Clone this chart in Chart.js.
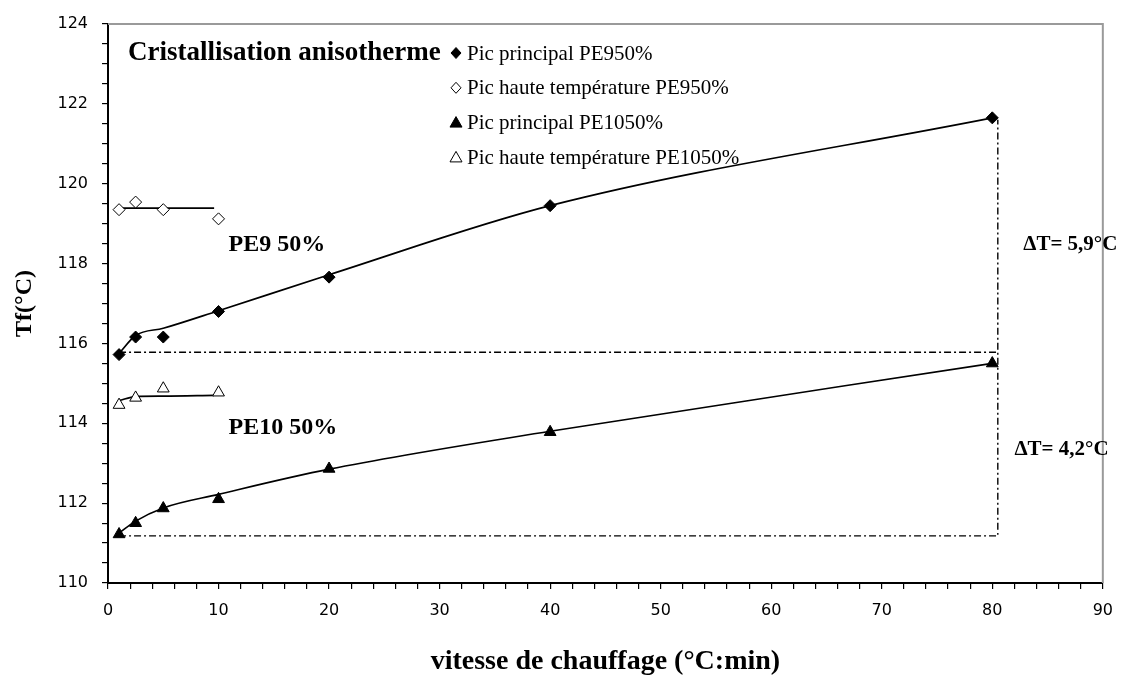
<!DOCTYPE html>
<html>
<head>
<meta charset="utf-8">
<script src="https://cdn.jsdelivr.net/npm/chart.js@4.4.0/dist/chart.umd.min.js"></script>
<style>
  html, body { margin: 0; padding: 0; background: #fff; }
  #wrap { width: 1125px; height: 681px; }
</style>
</head>
<body>
<div id="wrap"><canvas id="chart"></canvas></div>
<script>
// heating rates (°C/min)
const rates = [1, 2.5, 5, 10, 20, 40, 80];
const ratesHaute = [1, 2.5, 5, 10];

// measured melting temperatures Tf (°C)
const picPE9 = [115.72, 116.16, 116.16, 116.8, 117.66, 119.45, 121.65];
const hautePE9 = [119.35, 119.54, 119.35, 119.12];
const picPE10 = [111.22, 111.5, 111.87, 112.1, 112.86, 113.78, 115.5];
const hautePE10 = [114.46, 114.64, 114.87, 114.77];

// trend curves as drawn on the figure
const fitPE9 = [115.75, 116.2, 116.38, 116.82, 117.72, 119.45, 121.65];
const fitPE10 = [111.25, 111.55, 111.88, 112.22, 112.85, 113.8, 115.5];
const fitHauteX = [1, 2.5, 5, 9.6];
const fitHautePE9 = [119.39, 119.39, 119.39, 119.39];
const fitHautePE10 = [114.57, 114.67, 114.68, 114.7];

// dash-dot ΔT guides
const guideX = [1, 80.5, 80.5];
const guideTop = [115.78, 115.78];
const guideBottom = [111.18, 111.18, 121.6];

const legendLabels = [
  "Pic principal PE950%",
  "Pic haute température PE950%",
  "Pic principal PE1050%",
  "Pic haute température PE1050%"
];

const xy = (xs, ys) => ys.map((v, i) => ({ x: xs[i], y: v }));
const serif = '"Liberation Serif", "Times New Roman", serif';
const sans = '"DejaVu Sans", Tahoma, sans-serif';

function markerDs(label, xs, ys, style, filled) {
  return {
    label: label,
    data: xy(xs, ys),
    showLine: false,
    pointStyle: style,
    pointRadius: style === "rectRot" ? 6 : 6.8,
    pointBackgroundColor: filled ? "#000" : "#fff",
    pointBorderColor: "#000",
    pointBorderWidth: 1,
    order: 0
  };
}

function lineDs(xs, ys, dash, tension) {
  return {
    label: "",
    data: xy(xs, ys),
    showLine: true,
    borderColor: "#000",
    borderWidth: dash ? 1.4 : 1.7,
    borderDash: dash || [],
    pointRadius: 0,
    tension: tension || 0,
    cubicInterpolationMode: "monotone",
    order: 1
  };
}

const overlay = {
  id: "overlay",
  beforeDatasetsDraw(chart) {
    const { ctx, chartArea: a } = chart;
    ctx.save();
    ctx.strokeStyle = "#9a9a9a";
    ctx.lineWidth = 2;
    ctx.beginPath();
    ctx.moveTo(a.left, a.top);
    ctx.lineTo(a.right, a.top);
    ctx.lineTo(a.right, a.bottom);
    ctx.stroke();
    ctx.restore();
  },
  afterDatasetsDraw(chart) {
    const { ctx, scales: { x, y } } = chart;
    ctx.save();
    ctx.fillStyle = "#000";
    ctx.textBaseline = "middle";

    ctx.font = "bold 27px " + serif;
    ctx.fillText("Cristallisation anisotherme", 128, 53);

    // legend
    const styles = ["rectRot", "rectRot", "triangle", "triangle"];
    const fills = [true, false, true, false];
    ctx.font = "21px " + serif;
    legendLabels.forEach((t, i) => {
      const cy = 53 + i * 34.8;
      const mx = 456;
      ctx.beginPath();
      if (styles[i] === "rectRot") {
        ctx.moveTo(mx, cy - 5.5); ctx.lineTo(mx + 5, cy); ctx.lineTo(mx, cy + 5.5); ctx.lineTo(mx - 5, cy);
      } else {
        ctx.moveTo(mx, cy - 6); ctx.lineTo(mx + 6, cy + 4.5); ctx.lineTo(mx - 6, cy + 4.5);
      }
      ctx.closePath();
      ctx.fillStyle = fills[i] ? "#000" : "#fff";
      ctx.fill();
      ctx.strokeStyle = "#000";
      ctx.lineWidth = 1;
      ctx.stroke();
      ctx.fillStyle = "#000";
      ctx.fillText(t, 467, cy + 1);
    });

    ctx.font = "bold 24px " + serif;
    ctx.fillText("PE9 50%", x.getPixelForValue(10.9), y.getPixelForValue(118.47));
    ctx.fillText("PE10 50%", x.getPixelForValue(10.9), y.getPixelForValue(113.88));
    ctx.font = "bold 21px " + serif;
    ctx.fillText("\u0394T= 5,9\u00b0C", x.getPixelForValue(82.8), y.getPixelForValue(118.47));
    ctx.fillText("\u0394T= 4,2\u00b0C", x.getPixelForValue(82.0), y.getPixelForValue(113.33));
    ctx.restore();
  }
};

new Chart(document.getElementById("chart"), {
  type: "scatter",
  data: {
    datasets: [
      markerDs(legendLabels[0], rates, picPE9, "rectRot", true),
      markerDs(legendLabels[1], ratesHaute, hautePE9, "rectRot", false),
      markerDs(legendLabels[2], rates, picPE10, "triangle", true),
      markerDs(legendLabels[3], ratesHaute, hautePE10, "triangle", false),
      lineDs(rates, fitPE9, null, 0.4),
      lineDs(rates, fitPE10, null, 0.4),
      lineDs(fitHauteX, fitHautePE9, null, 0),
      lineDs(fitHauteX, fitHautePE10, null, 0.4),
      lineDs(guideX.slice(0, 2), guideTop, [7, 3, 2, 3]),
      lineDs(guideX, guideBottom, [7, 3, 2, 3])
    ]
  },
  options: {
    responsive: true,
    maintainAspectRatio: false,
    animation: false,
    layout: { autoPadding: false, padding: { top: 24, right: 22, left: 0, bottom: 0 } },
    plugins: {
      legend: { display: false },
      tooltip: { enabled: false }
    },
    scales: {
      x: {
        type: "linear",
        min: 0,
        max: 90,
        afterFit: (s) => { s.height = 98; },
        ticks: {
          stepSize: 2,
          autoSkip: false,
          maxRotation: 0,
          padding: 12,
          color: "#000",
          font: { family: sans, size: 16 },
          callback: (v) => (v % 10 === 0 ? v : "")
        },
        grid: { drawOnChartArea: false, color: "#000", tickLength: 6, lineWidth: 1.2 },
        border: { color: "#000", width: 2 },
        title: {
          display: true,
          text: "vitesse de chauffage (\u00b0C:min)",
          color: "#000",
          font: { family: serif, size: 28, weight: "bold" },
          padding: { top: 10, bottom: 2 }
        }
      },
      y: {
        type: "linear",
        min: 110,
        max: 124,
        afterFit: (s) => { s.width = 108; },
        ticks: {
          stepSize: 0.5,
          autoSkip: false,
          padding: 14,
          color: "#000",
          font: { family: sans, size: 16 },
          callback: (v) => (v % 2 === 0 ? v : "")
        },
        grid: { drawOnChartArea: false, color: "#000", tickLength: 6, lineWidth: 1.2 },
        border: { color: "#000", width: 2 },
        title: {
          display: true,
          text: "Tf(\u00b0C)",
          color: "#000",
          font: { family: serif, size: 24, weight: "bold" },
          padding: { top: 10 }
        }
      }
    }
  },
  plugins: [overlay]
});
</script>
</body>
</html>
